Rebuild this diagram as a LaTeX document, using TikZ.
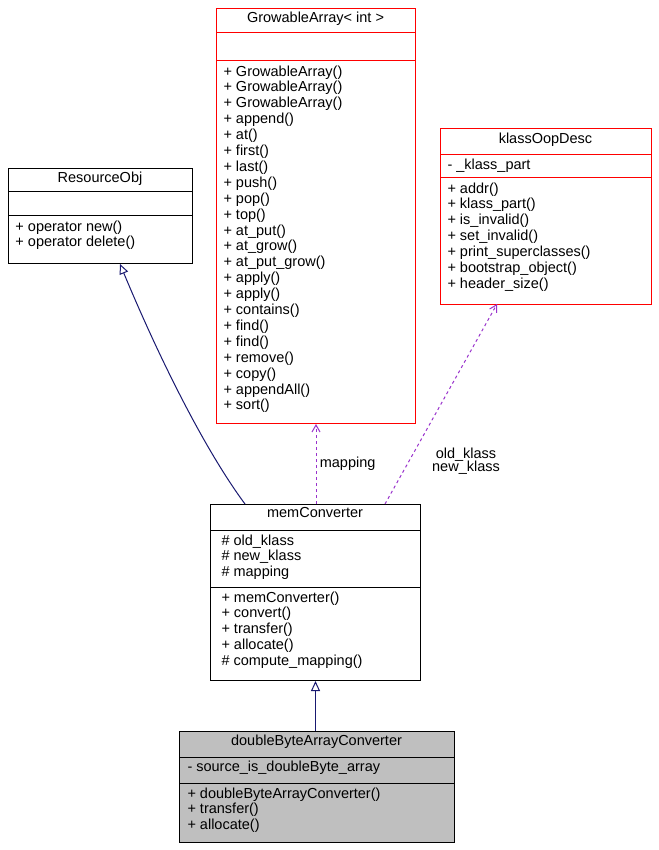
\documentclass[tikz,border=0pt]{standalone}
\usepackage{fontspec}
\setmainfont{Liberation Sans}
\usetikzlibrary{arrows.meta}
\definecolor{edgeblue}{RGB}{25,25,112}
\definecolor{edgepurple}{RGB}{153,50,204}
\tikzset{
  cls/.style={draw, anchor=north west, inner sep=0pt},
  txt/.style={anchor=north west, inner sep=0pt, align=left, font=\fontsize{14.5}{15.9}\selectfont},
  ttl/.style={anchor=north, inner sep=0pt, font=\fontsize{14.5}{15.9}\selectfont},
  inherit/.style={edgeblue, -{Triangle[open,length=10pt,width=9pt]}},
  uses/.style={edgepurple, dashed, -{Straight Barb[length=7pt,width=8pt]}}
}
\begin{document}
\begin{tikzpicture}[x=1pt,y=-1pt,line width=1pt]
  \useasboundingbox (0,0) rectangle (658,850);
  % GrowableArray
  \node [cls, red, minimum width=199pt, minimum height=415pt] (grow) at (216,8) {};
  \draw [red] (216,33)--(415,33);
  \draw [red] (216,61)--(415,61);
  \node [ttl] (growT) at (315.5,11) {GrowableArray< int >};
  \node [txt] (growM) at (223,65) {+ GrowableArray()\\+ GrowableArray()\\+ GrowableArray()\\+ append()\\+ at()\\+ first()\\+ last()\\+ push()\\+ pop()\\+ top()\\+ at\_put()\\+ at\_grow()\\+ at\_put\_grow()\\+ apply()\\+ apply()\\+ contains()\\+ find()\\+ find()\\+ remove()\\+ copy()\\+ appendAll()\\+ sort()};
  % ResourceObj
  \node [cls, minimum width=184pt, minimum height=95pt] (res) at (8,168) {};
  \draw (8,192)--(192,192);
  \draw (8,216)--(192,216);
  \node [ttl] (resT) at (100,171) {ResourceObj};
  \node [txt] (resM) at (15,220) {+ operator new()\\+ operator delete()};
  % klassOopDesc
  \node [cls, red, minimum width=211pt, minimum height=176pt] (klass) at (440,128) {};
  \draw [red] (440,155)--(651,155);
  \draw [red] (440,178)--(651,178);
  \node [ttl] (klassT) at (545.5,132) {klassOopDesc};
  \node [txt] (klassA) at (447,158) {- \_klass\_part};
  \node [txt] (klassM) at (447,182) {+ addr()\\+ klass\_part()\\+ is\_invalid()\\+ set\_invalid()\\+ print\_superclasses()\\+ bootstrap\_object()\\+ header\_size()};
  % memConverter
  \node [cls, minimum width=210pt, minimum height=176pt] (mem) at (210,504) {};
  \draw (210,530)--(420,530);
  \draw (210,587)--(420,587);
  \node [ttl] (memT) at (315,507) {memConverter};
  \node [txt] (memA) at (221,534) {\# old\_klass\\\# new\_klass\\\# mapping};
  \node [txt] (memM) at (221,591) {+ memConverter()\\+ convert()\\+ transfer()\\+ allocate()\\\# compute\_mapping()};
  % doubleByteArrayConverter
  \node [cls, fill=gray!50, minimum width=275pt, minimum height=111pt] (dbl) at (179,731) {};
  \draw (179,757)--(454,757);
  \draw (179,783)--(454,783);
  \node [ttl] (dblT) at (316.5,734) {doubleByteArrayConverter};
  \node [txt] (dblA) at (187,760) {- source\_is\_doubleByte\_array};
  \node [txt] (dblM) at (187,787) {+ doubleByteArrayConverter()\\+ transfer()\\+ allocate()};
  % relations
  \coordinate (memL) at (245,504);
  \coordinate (memR) at (385,504);
  \coordinate (resB) at (120,264);
  \coordinate (klassB) at (497,304);
  \draw [inherit] (memL) .. controls (205,450) and (160,360) .. (resB);
  \draw [uses] (mem.north -| grow.south) -- (grow.south) node [midway, right, black, font=\fontsize{14.5}{15.9}\selectfont] {mapping};
  \draw [uses] (memR) -- (klassB);
  \node [font=\fontsize{14.5}{13.5}\selectfont, align=center] (lbl) at (466,461) {old\_klass\\new\_klass};
  \draw [inherit] (dbl.north -| mem.south) -- (mem.south);
\end{tikzpicture}
\end{document}
